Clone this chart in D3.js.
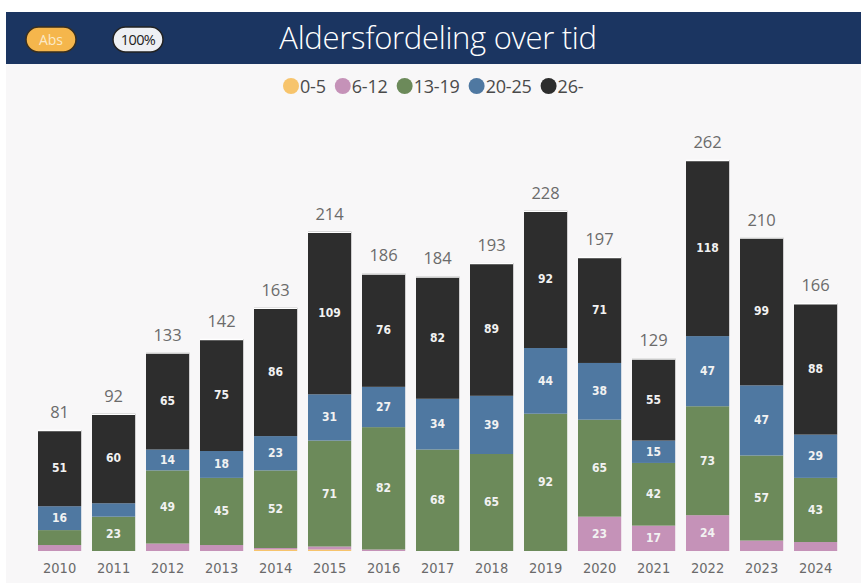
<!DOCTYPE html>
<html lang="no">
  <head>
    <meta charset="UTF-8" />
    <title>Aldersfordeling over tid</title>
    <script src="https://d3js.org/d3.v7.min.js"></script>
    <style>
      body {
        margin: 0;
        background: #fff;
        font-family: 'Open Sans', 'Noto Sans', sans-serif;
      }
      .seg-label {
        font-family: 'DejaVu Sans Condensed', 'DejaVu Sans', sans-serif;
        font-weight: bold;
        font-size: 12px;
        fill: #f2f2f2;
      }
      .total-label {
        font-size: 16.5px;
        fill: #6b6b6b;
      }
      .year-label {
        font-family: 'DejaVu Sans Condensed', 'DejaVu Sans', sans-serif;
        font-size: 14.5px;
        fill: #6a6a6a;
      }
    </style>
  </head>
  <body>
    <div id="chart"></div>
    <script>
      // data
      const years = ['2010', '2011', '2012', '2013', '2014', '2015', '2016', '2017',
        '2018', '2019', '2020', '2021', '2022', '2023', '2024'];
      const ageGroups = ['0-5', '6-12', '13-19', '20-25', '26-'];
      const age0_5 = [0, 0, 0, 0, 1, 1, 0, 0, 0, 0, 0, 0, 0, 0, 0];
      const age6_12 = [4, 0, 5, 4, 1, 2, 1, 0, 0, 0, 23, 17, 24, 7, 6];
      const age13_19 = [10, 23, 49, 45, 52, 71, 82, 68, 65, 92, 65, 42, 73, 57, 43];
      const age20_25 = [16, 9, 14, 18, 23, 31, 27, 34, 39, 44, 38, 15, 47, 47, 29];
      const age26 = [51, 60, 65, 75, 86, 109, 76, 82, 89, 92, 71, 55, 118, 99, 88];
      const totals = [81, 92, 133, 142, 163, 214, 186, 184, 193, 228, 197, 129, 262, 210, 166];
      const colors = ['#f7c46c', '#c592b8', '#6c8a5a', '#4f78a1', '#2d2d2d'];

      const W = 861, H = 583;
      const svg = d3.select('#chart').append('svg')
        .attr('width', W).attr('height', H);

      // background
      svg.append('rect').attr('x', 6).attr('y', 64).attr('width', W - 6).attr('height', H - 64)
        .attr('fill', '#f8f7f8');

      // header
      svg.append('rect').attr('x', 6).attr('y', 12).attr('width', W - 6).attr('height', 52)
        .attr('fill', '#1b3561');
      svg.append('rect').attr('x', 26).attr('y', 27).attr('width', 50).attr('height', 25)
        .attr('rx', 12.5).attr('fill', '#f5b64c').attr('stroke', '#3a2f1e').attr('stroke-width', 1.5);
      svg.append('text').attr('x', 51).attr('y', 45).attr('text-anchor', 'middle')
        .attr('font-size', 14).attr('fill', '#fbe9c8').text('Abs');
      svg.append('rect').attr('x', 113).attr('y', 27).attr('width', 50).attr('height', 25)
        .attr('rx', 12.5).attr('fill', '#eef0f4').attr('stroke', '#222').attr('stroke-width', 1.5);
      svg.append('text').attr('x', 138).attr('y', 45).attr('text-anchor', 'middle')
        .attr('font-size', 14.5).attr('fill', '#222').attr('letter-spacing', -0.6).text('100%');
      svg.append('text').attr('x', 438).attr('y', 49).attr('text-anchor', 'middle')
        .attr('font-size', 31).attr('font-weight', 300).attr('fill', '#fff')
        .attr('letter-spacing', -0.3)
        .text('Aldersfordeling over tid');

      // legend
      const legend = svg.append('g').attr('transform', 'translate(283,86)');
      let lx = 0;
      ageGroups.forEach((g, i) => {
        legend.append('circle').attr('cx', lx + 8).attr('cy', 0).attr('r', 8).attr('fill', colors[i]);
        const t = legend.append('text').attr('x', lx + 17).attr('y', 6.5)
          .attr('font-size', 18).attr('fill', '#4a4a4a').attr('letter-spacing', -0.2).text(g);
        lx += 17 + t.node().getComputedTextLength() + 9;
      });

      // scales
      const x = d3.scaleBand().domain(years).range([32.6, 842.6])
        .paddingInner(0.2).paddingOuter(0.1);
      const y = d3.scaleLinear().domain([0, 262]).range([551, 160]);

      const rows = years.map((yr, i) => ({
        year: yr,
        '0-5': age0_5[i], '6-12': age6_12[i], '13-19': age13_19[i],
        '20-25': age20_25[i], '26-': age26[i],
      }));
      const stacked = d3.stack().keys(ageGroups)(rows);

      const layers = svg.selectAll('.layer').data(stacked).enter().append('g')
        .attr('class', 'layer').attr('fill', (d, i) => colors[i]);

      layers.selectAll('rect').data((d) => d).enter().append('rect')
        .attr('x', (d) => x(d.data.year))
        .attr('width', x.bandwidth())
        .attr('y', (d) => y(d[1]))
        .attr('height', (d) => y(d[0]) - y(d[1]));

      // segment labels
      layers.selectAll('text').data((d) => d.map((v) => ({ v, key: d.key }))).enter()
        .filter((d) => d.v[1] - d.v[0] >= 14)
        .append('text')
        .attr('class', 'seg-label')
        .attr('x', (d) => x(d.v.data.year) + x.bandwidth() / 2)
        .attr('y', (d) => (y(d.v[0]) + y(d.v[1])) / 2 + 4)
        .attr('text-anchor', 'middle')
        .text((d) => d.v[1] - d.v[0]);

      // top highlight
      svg.selectAll('.top-line').data(years).enter().append('line')
        .attr('x1', (d) => x(d)).attr('x2', (d) => x(d) + x.bandwidth())
        .attr('y1', (d, i) => y(totals[i]) + 0.5).attr('y2', (d, i) => y(totals[i]) + 0.5)
        .attr('stroke', '#fff').attr('stroke-width', 1.5);

      // totals
      svg.selectAll('.total-label').data(years).enter().append('text')
        .attr('class', 'total-label')
        .attr('x', (d) => x(d) + x.bandwidth() / 2)
        .attr('y', (d, i) => y(totals[i]) - 12)
        .attr('text-anchor', 'middle')
        .text((d, i) => totals[i]);

      // x axis labels
      svg.selectAll('.year-label').data(years).enter().append('text')
        .attr('class', 'year-label')
        .attr('x', (d) => x(d) + x.bandwidth() / 2)
        .attr('y', 573)
        .attr('text-anchor', 'middle')
        .text((d) => d);
    </script>
  </body>
</html>
